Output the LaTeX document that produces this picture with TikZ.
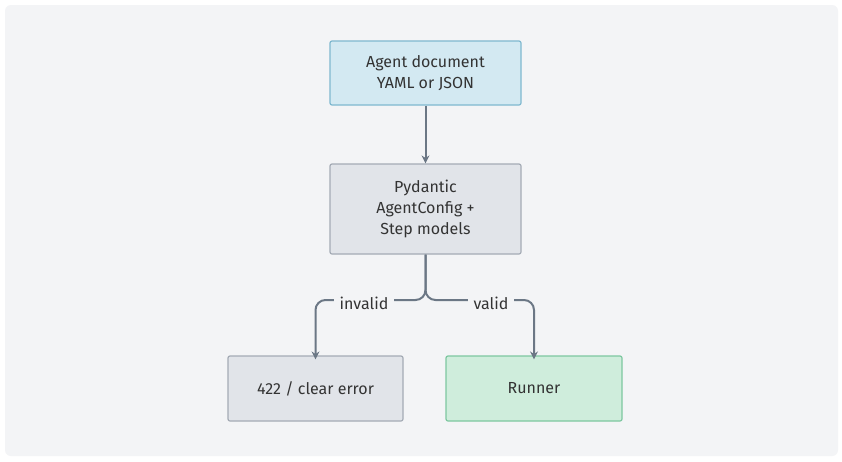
\documentclass[tikz,border=0pt]{standalone}
\usepackage{fontspec}
\setmainfont{Fira Sans}
\usetikzlibrary{arrows.meta}
\definecolor{bg}{HTML}{F3F4F6}
\definecolor{ln}{HTML}{6B7785}
\definecolor{bluef}{HTML}{D3E9F2}
\definecolor{blued}{HTML}{7FB8CF}
\definecolor{grayf}{HTML}{E1E4E9}
\definecolor{grayd}{HTML}{A4ABB5}
\definecolor{greenf}{HTML}{CFEDDC}
\definecolor{greend}{HTML}{7DC7A0}
\begin{document}
\begin{tikzpicture}[x=1pt,y=-1pt,
  box/.style={draw, line width=1.2pt, rounded corners=2pt, minimum width=191pt, align=center, font=\fontsize{16}{21}\selectfont, text=black!80},
  arr/.style={draw=ln, line width=2pt, -{Stealth[length=8pt,width=8pt]}},
  lab/.style={fill=bg, font=\fontsize{16}{18}\selectfont, text=black!80, inner xsep=6pt, inner ysep=3pt}]
\useasboundingbox (0,0) rectangle (842,461);
\fill[white] (0,0) rectangle (842,461);
\fill[bg, rounded corners=6pt] (5,5) rectangle (838,456);
\node[box, fill=bluef, draw=blued, minimum height=64pt] (a) at (425.5,73) {Agent document\\YAML or JSON};
\node[box, fill=grayf, draw=grayd, minimum height=90pt] (p) at (425.5,209) {Pydantic\\AgentConfig +\\Step models};
\node[box, fill=grayf, draw=grayd, minimum width=175pt, minimum height=65pt] (e) at (315.5,388.5) {422 / clear error};
\node[box, fill=greenf, draw=greend, minimum width=176pt, minimum height=65pt] (r) at (534,388.5) {Runner};
\draw[arr] (a.south) -- (p.north);
\draw[arr, rounded corners=10pt] (p.south) -- (425.5,300) -- (e.north |- 0,300) -- ([yshift=-4pt]e.north);
\draw[arr, rounded corners=10pt] (p.south) -- (425.5,300) -- (r.north |- 0,300) -- ([yshift=-4pt]r.north);
\node[lab] (li) at (364,303) {invalid};
\node[lab] (lv) at (491,303) {valid};
\end{tikzpicture}
\end{document}
